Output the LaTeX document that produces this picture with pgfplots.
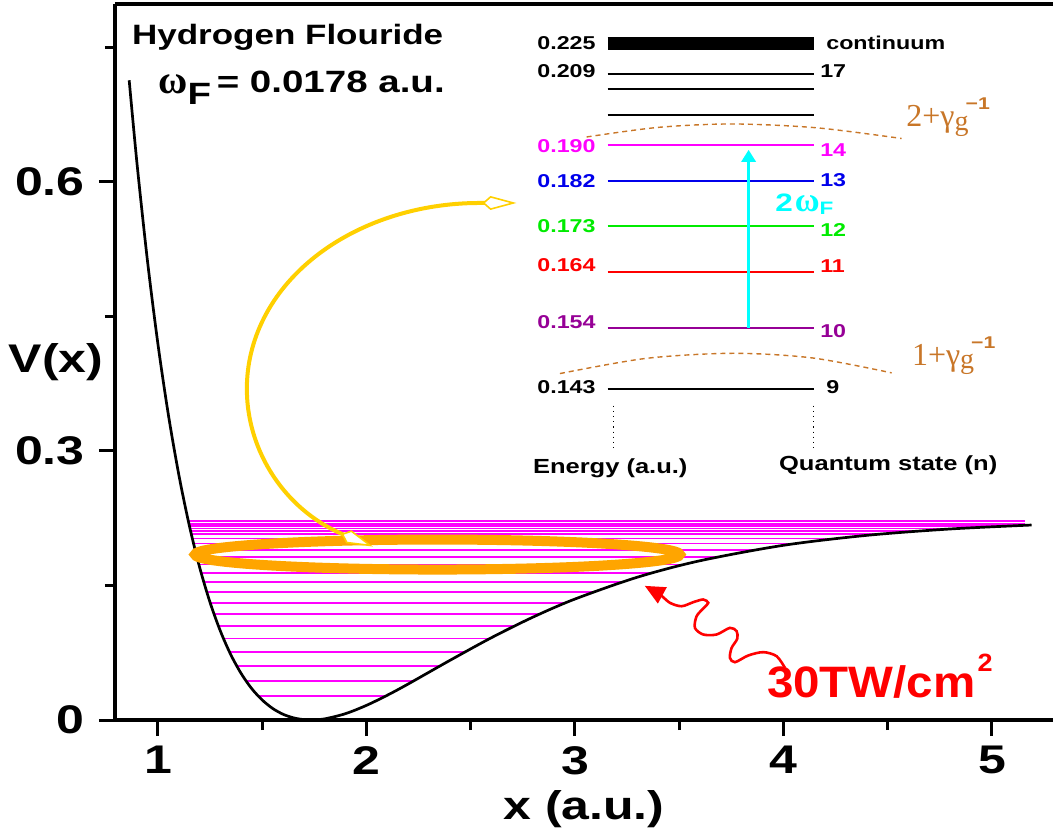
\documentclass[border=0pt]{standalone}
\usepackage{fontspec}
\setmainfont{Liberation Sans}
\newfontfamily\wb[FakeStretch=1.25]{Liberation Sans}
\newfontfamily\wbb[FakeStretch=1.08]{Liberation Sans}
\newfontfamily\tms{Liberation Serif}
\usepackage{pgfplots}
\pgfplotsset{compat=1.18}
\usetikzlibrary{arrows.meta}

\definecolor{mag}{RGB}{255,0,255}
\definecolor{brn}{RGB}{200,118,40}
\definecolor{gold}{RGB}{255,208,0}
\definecolor{orng}{RGB}{255,165,0}
\definecolor{purp}{RGB}{150,0,150}
\definecolor{grn}{RGB}{0,235,0}
\definecolor{blu}{RGB}{0,0,235}
\definecolor{cyn}{RGB}{0,255,255}

\newcommand\fs[1]{\fontsize{#1}{#1}\selectfont}

\tikzset{
  kt/.tip={Kite[length=17bp,width=7bp,inset=4bp,fill=white,line width=0.8bp]},
  rt/.tip={Triangle[length=10bp,width=9bp]},
  ct/.tip={Triangle[length=6bp,width=7bp]},
}

\begin{document}
\begin{tikzpicture}
\begin{axis}[
  name=ax,
  width=469bp, height=358bp, scale only axis,
  xmin=0.794, xmax=5.293, ymin=0, ymax=0.798,
  axis x line*=box, axis y line*=left,
  axis line style={-, line width=1.7bp},
  tick align=outside,
  xtick pos=bottom, ytick pos=left,
  xtick={1,2,3,4,5}, minor xtick={1.5,2.5,3.5,4.5},
  ytick={0,0.3,0.6}, minor ytick={0.15,0.45,0.75},
  xticklabels={1,2,3,4,5}, yticklabels={0,0.3,0.6},
  major tick length=8bp, minor tick length=5bp,
  every tick/.style={black, line width=1.5bp},
  ticklabel style={font=\wb\bfseries\fs{20bp}, inner sep=0pt},
  xticklabel style={anchor=north},
  yticklabel style={anchor=east},
  xticklabel shift=5bp, yticklabel shift=7bp,
  /pgf/number format/assume math mode=true,
  clip=false,
]
% vibrational levels between the turning points
\pgfplotsset{lev/.style={mag, line width=0.85bp}}
\addplot[lev] coordinates {(1.482,0.0265) (2.091,0.0265)};
\addplot[lev] coordinates {(1.422,0.0437) (2.228,0.0437)};
\addplot[lev] coordinates {(1.377,0.0604) (2.355,0.0604)};
\addplot[lev] coordinates {(1.343,0.0760) (2.474,0.0760)};
\addplot[lev] coordinates {(1.314,0.0908) (2.592,0.0908)};
\addplot[lev] coordinates {(1.290,0.1050) (2.712,0.1050)};
\addplot[lev] coordinates {(1.269,0.1183) (2.833,0.1183)};
\addplot[lev] coordinates {(1.251,0.1306) (2.955,0.1306)};
\addplot[lev] coordinates {(1.234,0.1424) (3.085,0.1424)};
\addplot[lev] coordinates {(1.220,0.1535) (3.222,0.1535)};
\addplot[lev] coordinates {(1.207,0.1640) (3.370,0.1640)};
\addplot[lev] coordinates {(1.196,0.1733) (3.522,0.1733)};
\addplot[lev] coordinates {(1.187,0.1818) (3.685,0.1818)};
\addplot[lev] coordinates {(1.179,0.1892) (3.853,0.1892)};
\addplot[lev] coordinates {(1.171,0.1967) (4.061,0.1967)};
\addplot[lev] coordinates {(1.165,0.2022) (4.251,0.2022)};
\addplot[lev] coordinates {(1.160,0.2070) (4.457,0.2070)};
\addplot[lev] coordinates {(1.157,0.2105) (4.645,0.2105)};
\addplot[lev] coordinates {(1.154,0.2135) (4.845,0.2135)};
\addplot[lev] coordinates {(1.151,0.2162) (5.076,0.2162)};
\addplot[lev] coordinates {(1.149,0.2188) (5.160,0.2188)};
\addplot[lev] coordinates {(1.146,0.2215) (5.160,0.2215)};

% potential curve
\addplot[black, line width=1.35bp, smooth] coordinates {
(0.862,0.7130) (0.9,0.6192) (0.95,0.5112) (1.0,0.4189) (1.05,0.3402)
(1.1,0.2735) (1.15,0.2172) (1.2,0.1701) (1.25,0.1310) (1.3,0.0988)
(1.35,0.0725) (1.4,0.0515) (1.45,0.0349) (1.5,0.0223) (1.55,0.0129)
(1.6,0.0064) (1.65,0.0024) (1.7,0.0004) (1.733,0) (1.8,0.0013)
(1.9,0.0071) (2.0,0.0163) (2.1,0.0276) (2.2,0.0401) (2.4,0.0664)
(2.6,0.0918) (2.8,0.1148) (3.0,0.1348) (3.3,0.1592) (3.6,0.1775)
(4.0,0.1947) (4.4,0.2058) (4.8,0.2129) (5.19,0.2173)};

% orange ellipse
\draw[orng, line width=5bp] (axis cs:2.3405,0.1844) ellipse [x radius=121.25bp, y radius=7.5bp];

% yellow double arrow (elliptic arc)
\draw[gold, line width=2bp, kt-kt] (axis cs:2.0312,0.1933)
  arc [start angle=242.6, end angle=90, x radius=116bp, y radius=91bp] -- ++(18.35bp,0bp);

% red wavy arrow
\addplot[red, line width=1.3bp, smooth, arrows={-rt}] coordinates {
(4.0072,0.0581) (3.9674,0.0711) (3.9033,0.0756) (3.8312,0.0719) (3.7674,0.0644)
(3.7434,0.0693) (3.7516,0.0804) (3.7785,0.0905) (3.7755,0.0990) (3.7434,0.1027)
(3.6796,0.0953) (3.6153,0.0953) (3.5755,0.1027) (3.5836,0.1157) (3.6187,0.1250)
(3.6394,0.1306) (3.6153,0.1343) (3.5674,0.1313) (3.5117,0.1268) (3.4556,0.1306)
(3.4077,0.1398) (3.3350,0.1495)};
\node[anchor=base west, inner sep=0pt, text=red, font=\wbb\bfseries\fs{22bp}]
  at (axis cs:3.9194,0.0247) {30TW/cm\hspace{1bp}\raisebox{13bp}{\fs{12.5bp}2}};

% inset: energy levels
\addplot[black, line width=6.3bp] coordinates {(3.157,0.7541) (4.146,0.7541)};
\addplot[black, line width=1bp] coordinates {(3.157,0.7203) (4.146,0.7203)};
\addplot[black, line width=1bp] coordinates {(3.157,0.7033) (4.146,0.7033)};
\addplot[black, line width=1bp] coordinates {(3.157,0.6746) (4.146,0.6746)};
\addplot[mag, line width=1bp] coordinates {(3.157,0.6409) (4.146,0.6409)};
\addplot[blu, line width=1bp] coordinates {(3.157,0.6011) (4.146,0.6011)};
\addplot[grn, line width=1bp] coordinates {(3.157,0.5502) (4.146,0.5502)};
\addplot[red, line width=1bp] coordinates {(3.157,0.4994) (4.146,0.4994)};
\addplot[purp, line width=1bp] coordinates {(3.157,0.4370) (4.146,0.4370)};
\addplot[black, line width=1bp] coordinates {(3.157,0.3690) (4.146,0.3690)};
\addplot[black, line width=0.6bp, dotted] coordinates {(3.184,0.3504) (3.184,0.3033)};
\addplot[black, line width=0.6bp, dotted] coordinates {(4.146,0.3504) (4.146,0.3033)};

% dashed arcs
\addplot[brn, line width=0.7bp, dash pattern=on 2.5bp off 2bp, smooth] coordinates {
(3.056,0.6498) (3.40,0.6605) (3.758,0.6643) (4.16,0.6600) (4.567,0.6481)};
\addplot[brn, line width=0.7bp, dash pattern=on 2.5bp off 2bp, smooth] coordinates {
(2.928,0.3861) (3.34,0.4030) (3.758,0.4087) (4.14,0.4035) (4.519,0.3869)};

% cyan transition arrow
\addplot[cyn, line width=1.8bp, arrows={-ct}] coordinates {(3.833,0.4370) (3.833,0.6355)};
\node[anchor=base west, inner sep=0pt, text=cyn, font=\wb\bfseries\fs{12.6bp}]
  at (axis cs:3.959,0.5669) {2\hspace{1bp}{\tms\bfseries\fs{17bp}ω}\raisebox{-1.6bp}{\fs{9bp}F}};

% inset labels
\begin{scope}[every node/.style={inner sep=0pt, font=\wb\bfseries\fs{9.3bp}}]
\node[anchor=east] at (axis cs:3.101,0.7549) {0.225};
\node[anchor=east] at (axis cs:3.101,0.7229) {0.209};
\node[anchor=east, text=mag] at (axis cs:3.101,0.6395) {0.190};
\node[anchor=east, text=blu] at (axis cs:3.101,0.6006) {0.182};
\node[anchor=east, text=grn] at (axis cs:3.101,0.5504) {0.173};
\node[anchor=east, text=red] at (axis cs:3.101,0.5067) {0.164};
\node[anchor=east, text=purp] at (axis cs:3.101,0.4440) {0.154};
\node[anchor=east] at (axis cs:3.101,0.3705) {0.143};
\node[anchor=west] at (axis cs:4.204,0.7545) {continuum};
\node[anchor=west] at (axis cs:4.175,0.7229) {17};
\node[anchor=west, text=mag] at (axis cs:4.175,0.6357) {14};
\node[anchor=west, text=blu] at (axis cs:4.175,0.6022) {13};
\node[anchor=west, text=grn] at (axis cs:4.175,0.5465) {12};
\node[anchor=west, text=red] at (axis cs:4.175,0.5064) {11};
\node[anchor=west, text=purp] at (axis cs:4.175,0.4331) {10};
\node[anchor=west] at (axis cs:4.204,0.3705) {9};
\end{scope}
\node[inner sep=0pt, font=\wb\bfseries\fs{10.2bp}] at (axis cs:3.1695,0.2802) {Energy (a.u.)};
\node[inner sep=0pt, font=\wb\bfseries\fs{10.2bp}] at (axis cs:4.5027,0.2838) {Quantum state (n)};

\node[anchor=base west, inner sep=0pt, text=brn, font=\tms\fs{16bp}] at (axis cs:4.588,0.6611)
  {2+γ\rlap{\raisebox{-1.7bp}{\fs{14bp}g}}\hspace{5.5bp}\raisebox{8.5bp}{\wb\bfseries\fs{8.5bp}−1}};
\node[anchor=base west, inner sep=0pt, text=brn, font=\tms\fs{16bp}] at (axis cs:4.615,0.3953)
  {1+γ\rlap{\raisebox{-1.7bp}{\fs{14bp}g}}\hspace{5.5bp}\raisebox{8.5bp}{\wb\bfseries\fs{8.5bp}−1}};

% titles
\node[anchor=base west, inner sep=0pt, font=\wb\bfseries\fs{14bp}] at (axis cs:0.874,0.7527) {Hydrogen Flouride};
\node[anchor=base west, inner sep=0pt, font=\wb\bfseries\fs{15.4bp}] at (axis cs:1.0,0.6988)
  {{\tms\bfseries\fs{20bp}ω}\raisebox{-5.8bp}{F}\hspace{-2.5bp} = 0.0178 a.u.};

% axis labels
\node[anchor=base, inner sep=0pt, font=\wb\bfseries\fs{20bp}, yshift=-49.5bp] at (rel axis cs:0.5,0) {x (a.u.)};
\node[anchor=base, inner sep=0pt, font=\wb\bfseries\fs{20bp}, xshift=-29.5bp] at (rel axis cs:0,0.485) {V(x)};
\end{axis}
\pgfresetboundingbox
\path ([shift={(-57.5bp,-55.75bp)}]ax.south west) rectangle ([shift={(0bp,2bp)}]ax.north east);
\end{tikzpicture}
\end{document}
